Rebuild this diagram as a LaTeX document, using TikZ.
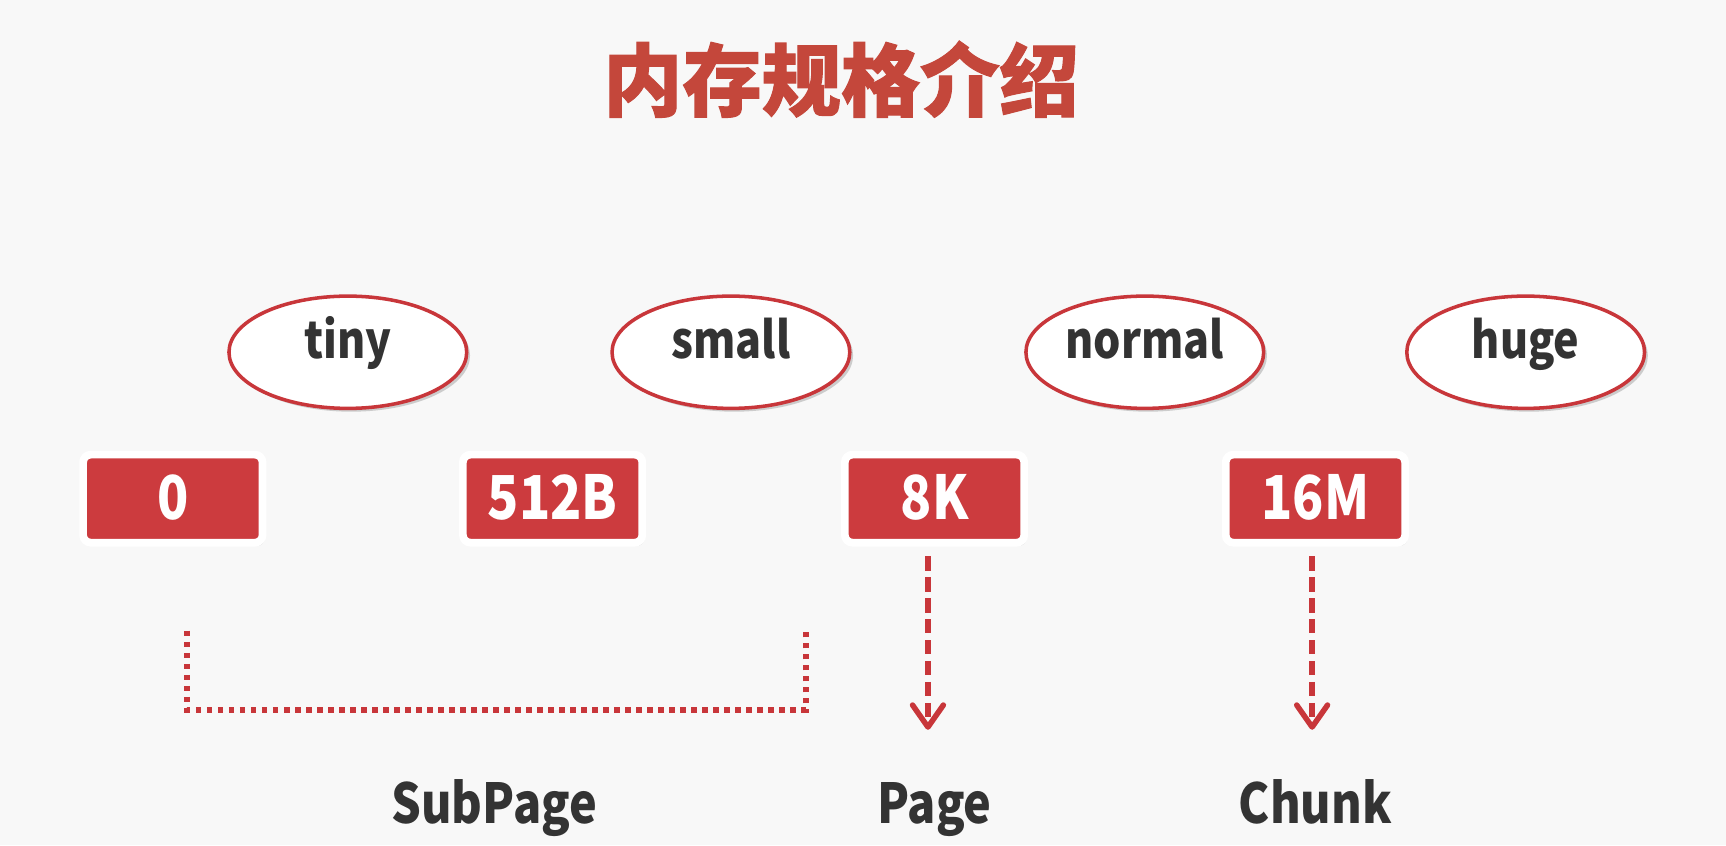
\documentclass[tikz,border=0pt]{standalone}
\usepackage{fontspec}
\setmainfont{Noto Sans CJK SC}
\newfontfamily\narrowfont{Noto Sans CJK SC}[FakeStretch=0.85]
\newfontfamily\titlefont{Noto Sans CJK SC}[BoldFeatures={FakeBold=1.3}]
\usetikzlibrary{shapes.geometric,shadows,arrows.meta}
\definecolor{bgc}{HTML}{F8F8F8}
\definecolor{titlered}{HTML}{C4473B}
\definecolor{linered}{HTML}{C8363A}
\definecolor{boxred}{HTML}{CC3B3E}
\definecolor{txtgray}{HTML}{333333}
\begin{document}
\begin{tikzpicture}[x=1pt,y=-1pt,
  sizeoval/.style={ellipse, draw=linered, line width=3.2pt, fill=white,
    minimum width=216pt, minimum height=102pt, inner sep=0pt,
    text=txtgray, font=\narrowfont\fontsize{46}{50}\selectfont\bfseries,
    text height=30pt, text depth=18pt,
    drop shadow={shadow xshift=3pt, shadow yshift=-3pt, opacity=0.25, fill=black!70}},
  sizebox/.style={rectangle, rounded corners=7pt, fill=boxred, draw=white, line width=7pt,
    minimum width=163pt, minimum height=80pt, inner sep=0pt,
    text=white, font=\narrowfont\fontsize{55}{60}\selectfont\bfseries,
    text height=37pt, text depth=0pt,
    drop shadow={shadow xshift=2pt, shadow yshift=-3pt, opacity=0.22, fill=black!70}},
  kindlabel/.style={text=txtgray, font=\narrowfont\fontsize{50}{54}\selectfont\bfseries,
    text height=36pt, text depth=6pt, inner sep=0pt},
  dotline/.style={draw=linered, line width=5.5pt, dash pattern=on 5pt off 5pt},
  dasharrow/.style={draw=linered, line width=5pt, dash pattern=on 13pt off 6pt,
    -{Straight Barb[length=20pt,width=28pt,line width=5pt,round]}}
]
\fill[bgc] (0,0) rectangle (1568,768);
\useasboundingbox (0,0) rectangle (1568,768);

% title
\node[text=titlered, font=\titlefont\fontsize{72}{80}\selectfont\bfseries, inner sep=0pt]
  (title) at (764,72) {内存规格介绍};

% ellipses
\node[sizeoval] (tiny)   at (316,320)  {tiny};
\node[sizeoval] (small)  at (664,320)  {small};
\node[sizeoval] (normal) at (1040,320) {normal};
\node[sizeoval] (huge)   at (1386,320) {huge};

% boxes
\node[sizebox] (b0)   at (157,453)  {0};
\node[sizebox] (b512) at (502,453)  {512B};
\node[sizebox] (b8k)  at (849,453)  {8K};
\node[sizebox] (b16m) at (1195,453) {16M};

% bracket
\coordinate (s1) at (170,573);
\coordinate (s2) at (170,645);
\coordinate (s3) at (732,645);
\coordinate (s4) at (732,573);
\draw[dotline] (s1) -- (s2) -- (s3) -- (s4);

% arrows
\coordinate (p8) at (843,663);
\coordinate (p16) at (1192,663);
\draw[dasharrow] (b8k.south -| p8) ++(0,9) -- (p8);
\draw[dasharrow] (b16m.south -| p16) ++(0,9) -- (p16);

% labels
\node[kindlabel] (subpage) at (449,733) {SubPage};
\node[kindlabel] (page)    at (849,733) {Page};
\node[kindlabel] (chunk)   at (1195,733) {Chunk};
\end{tikzpicture}
\end{document}
